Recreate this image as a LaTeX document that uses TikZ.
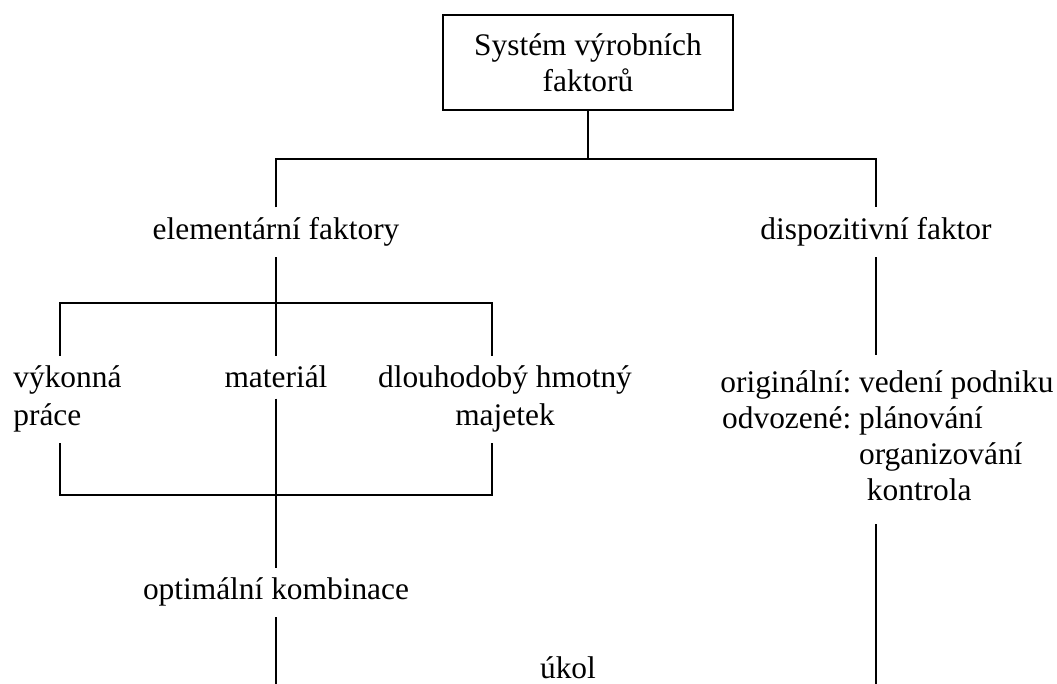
\documentclass[tikz,border=0pt]{standalone}
\usepackage{fontspec}
\setmainfont{Liberation Serif}
\usetikzlibrary{calc}
\tikzset{
    my-box/.style={
      draw, line width=1.4pt, minimum width=145pt, minimum height=47.5pt, align=center, inner sep=0pt
    },
    my-label/.style={
      inner sep=5pt, anchor=base
    },
    my-pair/.style={
      my-label, font=\fontsize{15.7}{19}\selectfont
    },
    my-line/.style={
      line width=1pt
    },
}

\begin{document}
\begin{tikzpicture}[x=0.5pt, y=-0.5pt, font=\fontsize{15.7}{18}\selectfont]

        \useasboundingbox (0,0) rectangle (1057,684);

        % TOP BOX
        \node[my-box]   (SYS)  at (588,62.5) {Systém výrobních\\faktorů};

        % FACTORS
        \node[my-label] (ELEM) at ($(SYS) + (-312, 177.5)$)  {elementární faktory};
        \node[my-label] (DISP) at ($(ELEM.base) + (600, 0)$) {dispozitivní faktor};

        % ELEMENTARY FACTORS
        \node[my-label]                   (MAT)  at ($(ELEM.base) + (0, 148)$)  {materiál};
        \node[my-pair, anchor=base west, align=left]   (VYK)  at ($(MAT.base) + (-273, 38)$) {výkonná\\práce};
        \node[my-pair, align=center]      (DLOU) at ($(MAT.base) + (229, 38)$)  {dlouhodobý hmotný\\majetek};

        % DISPOSITIVE FACTOR
        \node[my-label, anchor=base west, inner xsep=0pt, inner ysep=6pt] (ORIG) at ($(DISP.base) + (-156, 153)$)
            {\begin{tabular}[t]{@{}r@{\ }l@{}}
                originální: & vedení podniku\\
                odvozené:   & plánování\\
                            & organizování\\
                            & \ kontrola
             \end{tabular}};

        % RESULT
        \node[my-label] (OPT)  at ($(MAT.base) + (0, 212)$)  {optimální kombinace};
        \node[my-label] (UKOL) at ($(OPT.base) + (292, 79)$) {úkol};

        % CONNECTOR POINTS
        \coordinate (TOPJOIN) at ($(SYS.south) + (0, 48)$);
        \coordinate (BRTL)    at (60, 303);
        \coordinate (BRTR)    at (492, 303);
        \coordinate (BRBL)    at (60, 495);
        \coordinate (BRBR)    at (492, 495);
        \coordinate (BOTTOM)  at (0, 684);

        % CONNECTIONS
        \draw[my-line] (SYS.south) -- (TOPJOIN);
        \draw[my-line] (ELEM.north) |- (TOPJOIN) -| (DISP.north);
        \draw[my-line] (ELEM.south) -- (MAT.north);
        \draw[my-line] (BRTL |- VYK.north) -- (BRTL) -- (BRTR) -- (BRTR |- DLOU.north);
        \draw[my-line] (BRBL |- VYK.south) -- (BRBL) -- (BRBR) -- (BRBR |- DLOU.south);
        \draw[my-line] (MAT.south) -- (OPT.north);
        \draw[my-line] (OPT.south) -- (OPT.south |- BOTTOM);
        \draw[my-line] (DISP.south) -- (DISP.south |- ORIG.north);
        \draw[my-line] (DISP.south |- ORIG.south) -- (DISP.south |- BOTTOM);

    \end{tikzpicture}
\end{document}
